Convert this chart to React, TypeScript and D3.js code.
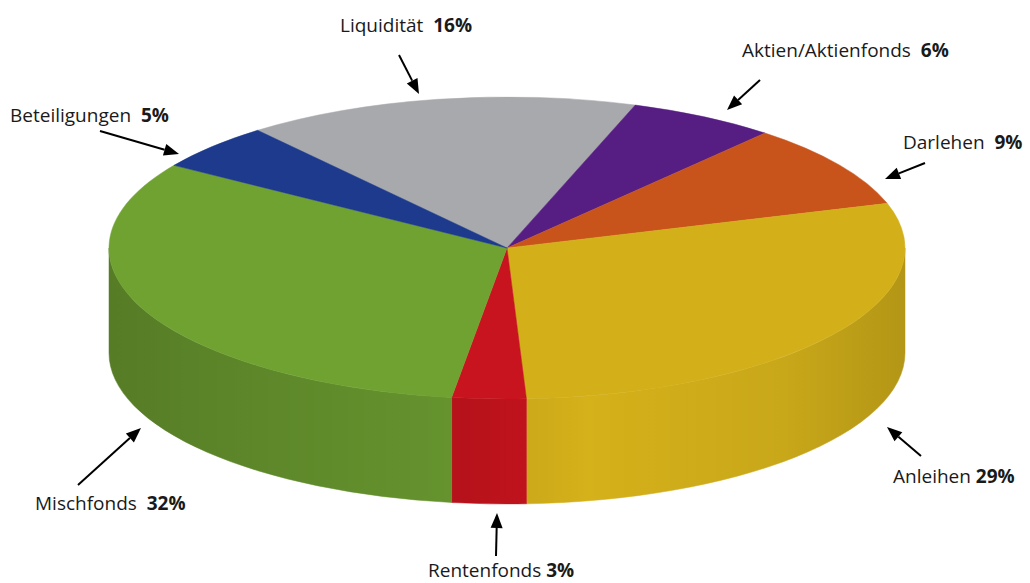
import React from "react";
import * as d3 from "d3";

// ---- data ----
const categories = ["Liquidität", "Aktien/Aktienfonds", "Darlehen", "Anleihen", "Rentenfonds", "Mischfonds", "Beteiligungen"];
const shares = [16, 6, 9, 29, 3, 32, 5];
const percentLabels = ["16%", "6%", "9%", "29%", "3%", "32%", "5%"];
const sliceColors = ["#a8a9ad", "#561e82", "#c8531b", "#d3b01a", "#c8141e", "#70a232", "#1d3a8c"];

// ---- layout ----
const W = 1030, H = 583;
const CX = 507, CY = 248, RX = 398, RY = 151, DEPTH = 105;
const START = (-38.8 * Math.PI) / 180;

// label annotation layout: text anchor (left x, baseline y), gap between name and percent, arrow from -> to
const annotations = [
  { tx: 340, ty: 32, gap: "  ", ax1: 399, ay1: 55, ax2: 419, ay2: 94 },
  { tx: 742, ty: 57, gap: "  ", ax1: 760, ay1: 80, ax2: 727, ay2: 110 },
  { tx: 903, ty: 149, gap: "  ", ax1: 925, ay1: 163, ax2: 885, ay2: 179 },
  { tx: 893, ty: 483, gap: " ", ax1: 921, ay1: 456, ax2: 887, ay2: 427 },
  { tx: 428, ty: 577, gap: " ", ax1: 496, ay1: 556, ax2: 497, ay2: 513 },
  { tx: 35, ty: 510, gap: "  ", ax1: 78, ay1: 485, ax2: 141, ay2: 428 },
  { tx: 10, ty: 122, gap: "  ", ax1: 100, ay1: 131, ax2: 179, ay2: 154 },
];

const pt = (a: number, dy = 0): [number, number] => [CX + RX * Math.sin(a), CY - RY * Math.cos(a) + dy];

function topPath(a0: number, a1: number) {
  const p0 = pt(a0), p1 = pt(a1);
  const large = a1 - a0 > Math.PI ? 1 : 0;
  return `M${CX},${CY}L${p0[0]},${p0[1]}A${RX},${RY} 0 ${large} 1 ${p1[0]},${p1[1]}Z`;
}

function sidePath(a0: number, a1: number) {
  const lo = Math.PI / 2, hi = (3 * Math.PI) / 2;
  const s = Math.max(a0, lo), e = Math.min(a1, hi);
  if (e <= s) return null;
  const t0 = pt(s), t1 = pt(e), b1 = pt(e, DEPTH), b0 = pt(s, DEPTH);
  return `M${t0[0]},${t0[1]}A${RX},${RY} 0 0 1 ${t1[0]},${t1[1]}L${b1[0]},${b1[1]}A${RX},${RY} 0 0 0 ${b0[0]},${b0[1]}Z`;
}

function Arrow({ x1, y1, x2, y2 }: { x1: number; y1: number; x2: number; y2: number }) {
  const ang = Math.atan2(y2 - y1, x2 - x1);
  const L = 15, Wd = 6;
  const bx = x2 - L * Math.cos(ang), by = y2 - L * Math.sin(ang);
  const px = -Math.sin(ang) * Wd, py = Math.cos(ang) * Wd;
  return (
    <g>
      <line x1={x1} y1={y1} x2={bx} y2={by} stroke="#000" strokeWidth={2} />
      <path d={`M${x2},${y2}L${bx + px},${by + py}L${bx - px},${by - py}Z`} fill="#000" />
    </g>
  );
}

export default function App() {
  const pie = d3.pie<number>().sort(null).startAngle(START).endAngle(START + 2 * Math.PI);
  const arcs = pie(shares);
  return (
    <svg width={W} height={H} style={{ position: "absolute", left: 0, top: 0 }} fontFamily="'Open Sans', sans-serif">
      <defs>
        {sliceColors.map((c, i) => (
          <linearGradient key={i} id={`side${i}`} gradientUnits="userSpaceOnUse" x1={CX - RX} x2={CX + RX} y1={0} y2={0}>
            <stop offset={0} stopColor={d3.color(c)!.darker(0.75).formatHex()} />
            <stop offset={0.15} stopColor={d3.color(c)!.darker(0.55).formatHex()} />
            <stop offset={0.45} stopColor={d3.color(c)!.darker(0.25).formatHex()} />
            <stop offset={0.6} stopColor={d3.color(c)!.brighter(0.02).formatHex()} />
            <stop offset={0.85} stopColor={d3.color(c)!.darker(0.15).formatHex()} />
            <stop offset={1} stopColor={d3.color(c)!.darker(0.45).formatHex()} />
          </linearGradient>
        ))}
      </defs>
      <rect width={W} height={H} fill="#fff" />
      {arcs.map((a, i) => {
        const d = sidePath(a.startAngle, a.endAngle);
        return d ? <path key={`s${i}`} d={d} fill={`url(#side${i})`} stroke={`url(#side${i})`} strokeWidth={0.5} /> : null;
      })}
      {arcs.map((a, i) => (
        <path key={`t${i}`} d={topPath(a.startAngle, a.endAngle)} fill={sliceColors[i]} stroke={sliceColors[i]} strokeWidth={0.5} />
      ))}
      {annotations.map((an, i) => (
        <g key={`a${i}`}>
          <text x={an.tx} y={an.ty} fontSize={19} fill="#1a1a1a" style={{ whiteSpace: "pre" }}>
            {categories[i] + an.gap}
            <tspan fontWeight="bold">{percentLabels[i]}</tspan>
          </text>
          <Arrow x1={an.ax1} y1={an.ay1} x2={an.ax2} y2={an.ay2} />
        </g>
      ))}
    </svg>
  );
}
